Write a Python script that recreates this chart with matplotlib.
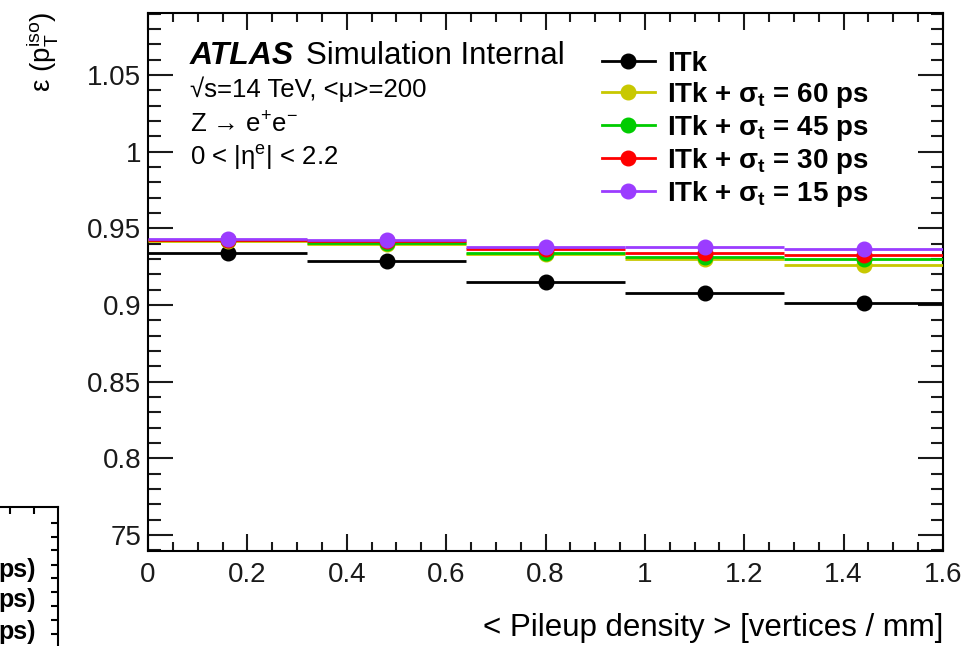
import matplotlib
matplotlib.use('Agg')
import matplotlib.pyplot as plt
from matplotlib.ticker import MultipleLocator, FixedLocator, FixedFormatter
from matplotlib.lines import Line2D
import numpy as np

plt.rcParams['font.family'] = 'Liberation Sans'
plt.rcParams['mathtext.fontset'] = 'custom'
plt.rcParams['mathtext.rm'] = 'Liberation Sans'
plt.rcParams['mathtext.it'] = 'Liberation Sans:italic'
plt.rcParams['mathtext.bf'] = 'Liberation Sans:bold'

# bin centres and half widths (pileup density, vertices / mm)
bin_centers = [0.16, 0.48, 0.80, 1.12, 1.44]
bin_half_width = 0.16

# isolation efficiency per configuration
eff_itk = [0.9339, 0.9287, 0.9152, 0.9080, 0.9011]
eff_60ps = [0.9419, 0.9395, 0.9330, 0.9302, 0.9261]
eff_45ps = [0.9421, 0.9405, 0.9339, 0.9311, 0.9298]
eff_30ps = [0.9424, 0.9418, 0.9363, 0.9337, 0.9328]
eff_15ps = [0.9430, 0.9426, 0.9376, 0.9376, 0.9363]

labels = ['ITk',
          r'ITk + σ$_{\mathbf{t}}$ = 60 ps',
          r'ITk + σ$_{\mathbf{t}}$ = 45 ps',
          r'ITk + σ$_{\mathbf{t}}$ = 30 ps',
          r'ITk + σ$_{\mathbf{t}}$ = 15 ps']
colors = ['black', '#c8c800', '#00cc00', '#ff0000', '#9b3cff']
series = [eff_itk, eff_60ps, eff_45ps, eff_30ps, eff_15ps]

y_ticks = [0.75, 0.80, 0.85, 0.90, 0.95, 1.00, 1.05]
y_tick_labels = ['75', '0.8', '0.85', '0.9', '0.95', '1', '1.05']
x_ticks = [0, 0.2, 0.4, 0.6, 0.8, 1.0, 1.2, 1.4, 1.6]
x_tick_labels = ['0', '0.2', '0.4', '0.6', '0.8', '1', '1.2', '1.4', '1.6']

fig = plt.figure(figsize=(9.71, 6.46), dpi=100)
ax = fig.add_axes([148 / 971, 1 - 551 / 646, (943 - 148) / 971, (551 - 13) / 646])

# draw order: black first, yellow last (on top)
for i in [0, 4, 3, 2, 1]:
    ax.errorbar(bin_centers, series[i], xerr=bin_half_width, fmt='o',
                color=colors[i], ms=10.5, elinewidth=2, capsize=0, zorder=3 + i)

ax.set_xlim(0, 1.6)
ax.set_ylim(0.7396, 1.0904)

ax.xaxis.set_major_locator(FixedLocator(x_ticks))
ax.xaxis.set_major_formatter(FixedFormatter(x_tick_labels))
ax.xaxis.set_minor_locator(MultipleLocator(0.05))
ax.yaxis.set_major_locator(FixedLocator(y_ticks))
ax.yaxis.set_major_formatter(FixedFormatter(y_tick_labels))
ax.yaxis.set_minor_locator(MultipleLocator(0.01))

ax.tick_params(which='both', direction='in', top=True, right=True, width=1.5,
               labelsize=20, colors='#1a1a1a')
ax.tick_params(axis='y', which='major', length=18, pad=5)
ax.tick_params(axis='y', which='minor', length=9)
ax.tick_params(axis='x', which='major', length=12, pad=8)
ax.tick_params(axis='x', which='minor', length=6.5)
for s in ax.spines.values():
    s.set_linewidth(1.5)

ax.set_xlabel('< Pileup density > [vertices / mm]', fontsize=22.5, ha='right', va='center')
ax.xaxis.set_label_coords(1.0, (551 - 628) / 538)
fig.text(24 / 971, 1 - 12 / 646, r'ε (p$_{\mathrm{T}}^{\mathrm{iso}}$)', rotation=90,
         fontsize=20, ha='left', va='top')

# ATLAS label block
ax.text(0.053, 0.905, 'ATLAS', transform=ax.transAxes, fontsize=23,
        fontweight='bold', style='italic', va='baseline')
ax.text(0.199, 0.905, 'Simulation Internal', transform=ax.transAxes, fontsize=22.5,
        va='baseline')
ax.text(0.053, 0.843, '√s=14 TeV, <μ>=200', transform=ax.transAxes,
        fontsize=18.5, va='baseline')
ax.text(0.053, 0.778, r'Z → e$^{+}$e$^{-}$', transform=ax.transAxes,
        fontsize=18.5, va='baseline')
ax.text(0.053, 0.718, r'0 < |η$^{\mathrm{e}}$| < 2.2', transform=ax.transAxes,
        fontsize=18.5, va='baseline')

handles = [Line2D([], [], color=c, lw=2, marker='o', ms=10.5) for c in colors]
leg = ax.legend(handles, labels, loc='upper left',
                bbox_to_anchor=(0.571, 0.93), frameon=False,
                handlelength=1.9, handletextpad=0.45, labelspacing=0.11,
                borderpad=0, borderaxespad=0,
                prop={'weight': 'bold', 'size': 20})

# leftover fragment of a neighbouring plot at bottom left
ax2 = fig.add_axes([-0.2, -0.2, 0.2 + 58 / 971, 0.2 + (646 - 507) / 646])
ax2.set_xlim(0, 1)
ax2.set_ylim(0, 1)
for side in ['top', 'right']:
    ax2.spines[side].set_linewidth(1.5)
ax2.set_xticks([0.81, 0.905])
ax2.set_yticks([0.94, 0.888, 0.840, 0.784, 0.735, 0.683, 0.631, 0.578, 0.526])
ax2.tick_params(direction='in', top=True, right=True, bottom=False, left=False,
                labelbottom=False, labelleft=False, length=5, width=1.5)
for yy in [0.765, 0.653, 0.534]:
    ax2.text(0.913, yy, 'ps)', fontsize=18, fontweight='bold', ha='right',
             va='center', transform=ax2.transAxes)

fig.savefig('out.png', dpi=100)
